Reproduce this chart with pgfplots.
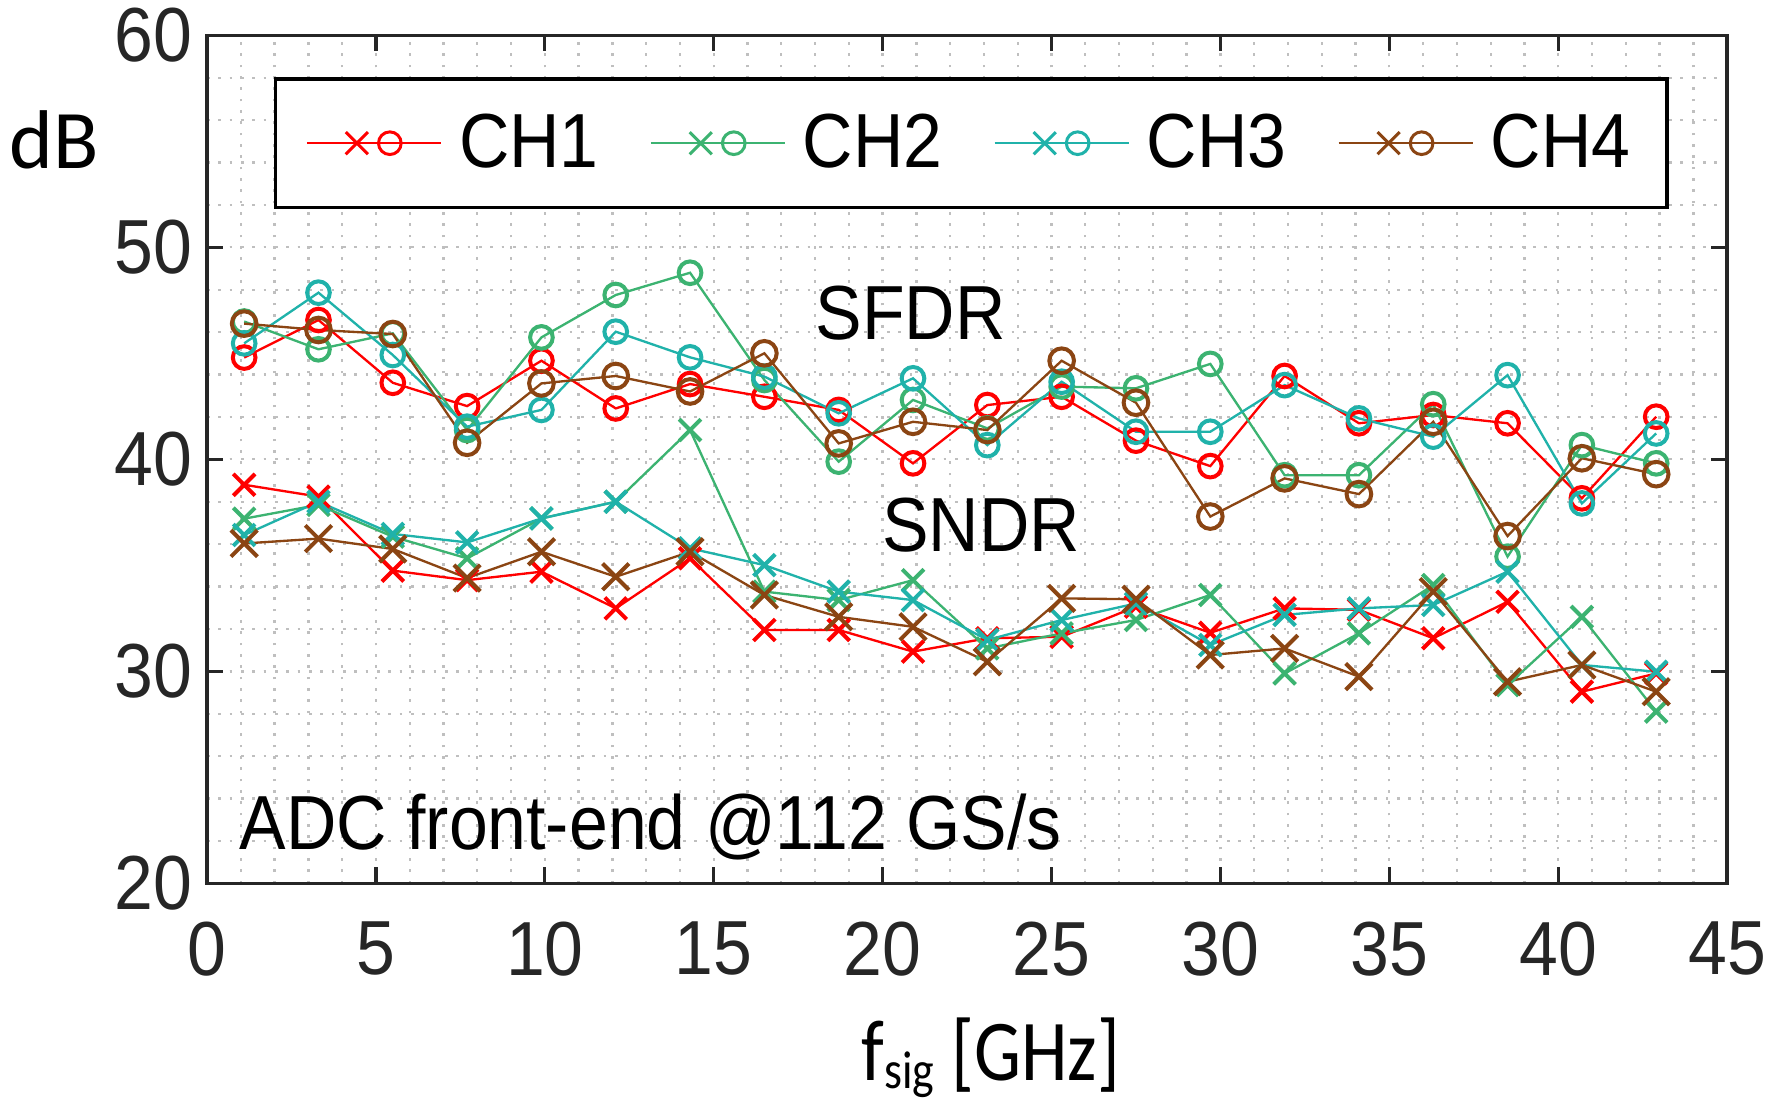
\documentclass[border=0pt]{standalone}
\usepackage{fontspec}
\setmainfont{Liberation Sans}[FakeStretch=0.91]
\newfontfamily\calib{Carlito}
\newfontfamily\calibn{Carlito}[FakeStretch=0.86]
\usepackage{pgfplots}
\usepackage{pgfplotstable}
\pgfplotsset{compat=1.18}

\definecolor{c1}{RGB}{255,0,0}
\definecolor{c2}{RGB}{60,179,113}
\definecolor{c3}{RGB}{32,178,170}
\definecolor{c4}{RGB}{139,69,19}
\definecolor{axc}{RGB}{38,38,38}

\pgfplotsset{
  chleg/.style={legend image code/.code={%
    \draw[##1,mark=none] (0pt,0pt) -- (40.3pt,0pt);
    \draw[##1,mark=x,mark size=4.7pt,mark options={solid,line width=0.9pt}] plot coordinates {(15pt,0pt)};
    \draw[##1,mark=o,mark size=3.4pt,mark options={solid,line width=0.9pt}] plot coordinates {(24.9pt,0pt)};
  }}
}

\pgfplotstableread{
x     s1    s2    s3    s4    n1    n2    n3    n4
1.1   44.80 46.50 45.47 46.40 38.80 37.20 36.43 36.03
3.3   46.57 45.19 47.86 46.10 38.24 37.85 38.00 36.26
5.5   43.61 45.94 44.92 45.91 34.75 36.35 36.48 35.77
7.7   42.51 41.38 41.54 40.78 34.30 35.33 36.08 34.40
9.9   44.65 45.75 42.33 43.58 34.70 37.21 37.21 35.64
12.1  42.40 47.75 46.02 43.93 32.97 38.00 38.00 34.46
14.3  43.55 48.80 44.81 43.20 35.33 41.38 35.80 35.64
16.5  42.95 43.74 43.90 45.00 31.95 33.76 35.01 33.60
18.7  42.33 39.89 42.17 40.75 31.95 33.36 33.76 32.57
20.9  39.81 42.80 43.82 41.77 30.93 34.30 33.36 32.10
23.1  42.56 41.46 40.67 41.38 31.56 31.08 31.48 30.45
25.3  42.95 43.43 43.66 44.65 31.63 31.79 32.42 33.44
27.5  40.88 43.35 41.30 42.67 33.05 32.42 33.20 33.40
29.7  39.68 44.50 41.30 37.30 31.82 33.60 31.24 30.77
31.9  43.93 39.25 43.50 39.10 32.97 29.90 32.66 31.08
34.1  41.70 39.25 41.93 38.36 32.90 31.79 32.97 29.75
36.3  42.09 42.60 41.07 41.77 31.56 34.07 33.13 33.76
38.5  41.70 35.41 43.97 36.38 33.28 29.35 34.70 29.51
40.7  38.16 40.67 37.92 40.05 29.04 32.57 30.30 30.30
42.9  42.01 39.81 41.22 39.30 29.90 28.10 29.98 29.04
}\data

\begin{document}
\begin{tikzpicture}
\begin{axis}[
  scale only axis,
  width=456pt, height=254.4pt,
  xmin=0, xmax=45, ymin=20, ymax=60,
  xtick={0,5,...,45}, ytick={20,30,...,60},
  minor xtick={0,1,...,45}, minor ytick={20,22,...,60},
  grid=both,
  major grid style={black!25, line width=0.7pt, dash pattern=on 0.8pt off 2.6pt},
  minor grid style={black!25, line width=0.7pt, dash pattern=on 0.8pt off 2.6pt},
  tick align=inside,
  major tick length=4.8pt, minor tick length=0pt,
  axis line style={line width=1pt, axc},
  every tick/.style={line width=1pt, axc},
  tick label style={font=\fontsize{23}{27}\selectfont, text=axc},
  /pgf/number format/assume math mode=true,
  xticklabel style={yshift=-8.1pt},
  yticklabel style={xshift=-1pt},
  clip=false,
  legend columns=4,
  legend style={at={(axis cs:1.983,58.02)}, anchor=north west,
    draw=black, line width=1pt, fill=white,
    inner xsep=9pt, inner ysep=8.5pt,
    font=\fontsize{23}{27}\selectfont,
    nodes={inner sep=2pt},
    /tikz/every even column/.append style={column sep=13.3pt},
    /tikz/every odd column/.append style={column sep=3pt}},
  every axis plot/.append style={line width=0.7pt, mark options={solid, line width=1.2pt}},
]
\addplot[c1, mark=o, mark size=3.4pt, chleg] table[x=x,y=s1] {\data};
\addlegendentry{CH1}
\addplot[c2, mark=o, mark size=3.4pt, chleg] table[x=x,y=s2] {\data};
\addlegendentry{CH2}
\addplot[c3, mark=o, mark size=3.4pt, chleg] table[x=x,y=s3] {\data};
\addlegendentry{CH3}
\addplot[c4, mark=o, mark size=3.7pt, chleg] table[x=x,y=s4] {\data};
\addlegendentry{CH4}
\addplot[c1, mark=x, mark size=4.6pt, forget plot] table[x=x,y=n1] {\data};
\addplot[c2, mark=x, mark size=4.6pt, forget plot] table[x=x,y=n2] {\data};
\addplot[c3, mark=x, mark size=4.6pt, forget plot] table[x=x,y=n3] {\data};
\addplot[c4, mark=x, mark size=5.6pt, forget plot] table[x=x,y=n4] {\data};

\node[anchor=base west, inner sep=0pt, font=\fontsize{23}{27}\selectfont] at (axis cs:18.0,45.63) {SFDR};
\node[anchor=base west, inner sep=0pt, font=\fontsize{23}{27}\selectfont] at (axis cs:19.97,35.64) {SNDR};
\node[anchor=base west, inner sep=0pt, font=\fontsize{23}{27}\selectfont] at (axis cs:0.95,21.62) {ADC front-end @112 GS/s};
\node[anchor=base west, inner sep=0pt, font=\calib\fontsize{25}{29}\selectfont] at (axis cs:-5.86,53.73) {dB};
\node[anchor=base west, inner sep=0pt, font=\calibn\fontsize{26}{30}\selectfont] at (axis cs:19.36,10.72) {f\raisebox{-2.6pt}{\fontsize{16}{18}\selectfont sig} [GHz]};

\coordinate (bbsw) at (axis cs:-6.128,9.59);
\coordinate (bbne) at (axis cs:46.536,61.665);
\end{axis}
\pgfresetboundingbox
\useasboundingbox (bbsw) rectangle (bbne);
\end{tikzpicture}
\end{document}
